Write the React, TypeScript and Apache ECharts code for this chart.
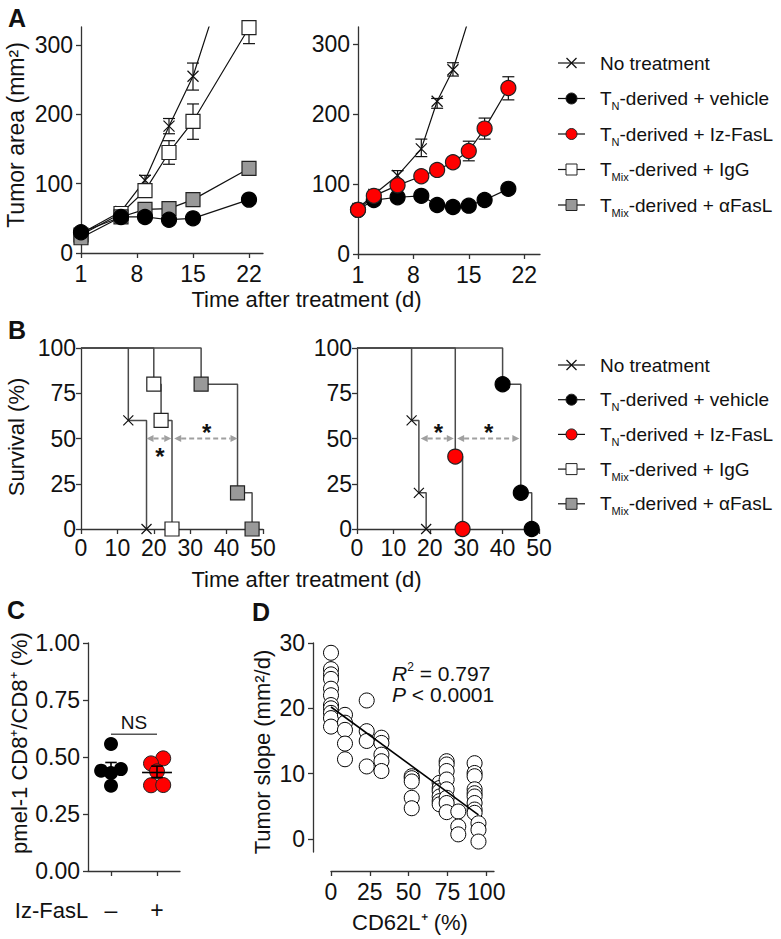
import React, { useEffect, useRef } from 'react';
import * as echarts from 'echarts';

const FONT = '"Liberation Sans", Arial, Helvetica, sans-serif';
const AX = '#333';
const TXT = '#111';

// ---------- Panel A (tumor area) ----------
const daysA1 = [1, 6, 9, 12, 15, 22];
const noTrtA1 = [28, 60, 105, 183, 255, 505];
const vehA1 = [30, 52, 52, 48, 50, 77];
const igGA1 = [26, 57, 90, 145, 190, 325];
const aFasLA1 = [22, 52, 63, 64, 77, 122];
const errNoTrtA1 = [[9, 100, 112], [12, 172, 194], [15, 235, 274]];
const errIgGA1 = [[12, 128, 162], [15, 164, 215], [22, 302, 350]];

const daysA2 = [1, 3, 6, 9, 11, 13, 15, 17, 20];
const daysNoTrtA2 = [1, 3, 6, 9, 11, 13, 17];
const noTrtA2 = [65, 85, 112, 150, 218, 263, 408];
const vehA2 = [63, 77, 81, 83, 70, 67, 69, 77, 93];
const izA2 = [63, 83, 98, 111, 120, 131, 147, 179, 237];
const errNoTrtA2 = [[6, 104, 119], [9, 139, 164], [11, 208, 222], [13, 254, 273]];
const errIzA2 = [[13, 125, 137], [15, 133, 161], [17, 164, 194], [20, 220, 253]];

const ticksAX = [1, 8, 15, 22];
const ticksAY = [0, 100, 200, 300];

// ---------- Panel B (survival) ----------
const survNoTrtL = [[0, 100], [13, 60], [18, 0]];
const survIgGL = [[0, 100], [20, 80], [22, 60], [25, 0]];
const survAFasLL = [[0, 100], [33, 80], [43, 20], [47, 0]];
const survNoTrtR = [[0, 100], [15, 60], [17, 20], [19, 0]];
const survIzR = [[0, 100], [27, 40], [29, 0]];
const survVehR = [[0, 100], [40, 80], [45, 20], [48, 0]];
const arrowsL = [[18, 24.8, 50], [25.6, 43, 50]];
const arrowsR = [[17.5, 26.6, 50], [27.5, 44.6, 50]];
const starsL = [[21.7, 43], [34.5, 56]];
const starsR = [[22.4, 56], [36.2, 56]];
const ticksBX = [0, 10, 20, 30, 40, 50];
const ticksBY = [0, 25, 50, 75, 100];

// ---------- Panel C ----------
const cNegJitter = [1, 0.57, 1, 1.43, 1];
const cNegVals = [0.557, 0.44, 0.43, 0.447, 0.374];
const cPosJitter = [3.27, 2.74, 3.0, 2.74, 3.27];
const cPosVals = [0.494, 0.472, 0.437, 0.376, 0.377];
const cMeanSem = [[1, 0.45, 0.425, 0.476], [3, 0.432, 0.41, 0.46]];
const cNS = [[1, 3, 0.6]];
const ticksCX = [1, 3];
const ticksCXLabels = ['–', '+'];
const ticksCY = [0, 0.25, 0.5, 0.75, 1];

// ---------- Panel D ----------
const dX = [
  0, 0, 0, 0, 0, 0, 0, 0, 0, 0, 0,
  9, 9, 9, 9, 9,
  23, 23, 23, 23,
  32.5, 32.5, 32.5, 32.5, 32.5,
  52, 52, 52, 52, 52,
  70, 70, 70, 70, 70, 70,
  74.5, 74.5, 74.5, 74.5, 74.5, 74.5, 74.5, 74.5,
  82, 82, 82,
  92.5, 92.5, 92.5, 92.5, 92.5, 92.5, 92.5, 92.5, 92.5,
  95, 95, 95,
];
const dY = [
  28.5, 26.0, 25.2, 24.5, 23.0, 22.0, 20.5, 20.0, 19.3, 18.5, 17.2,
  19.0, 17.8, 16.7, 14.6, 12.2,
  21.2, 16.5, 15.0, 11.1,
  15.5, 14.7, 12.9, 11.9, 10.4,
  9.6, 9.3, 8.8, 6.3, 4.7,
  8.6, 7.8, 7.3, 6.5, 5.8, 5.3,
  11.9, 11.4, 10.4, 9.1, 7.6, 6.3, 5.5, 4.1,
  4.2, 1.9, 0.7,
  11.6, 10.1, 9.6, 7.6, 7.0, 6.5, 5.5, 4.5, 4.0,
  2.4, 1.4, -0.4,
];
const dFitX = [0, 95];
const dFitY = [20.2, 3.7];
const ticksDX = [0, 25, 50, 75, 100];
const ticksDY = [0, 10, 20, 30];

const legendTexts = [
  'No treatment',
  '{n|T}{s|N}{n|-derived + vehicle}',
  '{n|T}{s|N}{n|-derived + Iz-FasL}',
  '{n|T}{s|Mix}{n|-derived + IgG}',
  '{n|T}{s|Mix}{n|-derived + αFasL}',
];

const XPATH = 'path://M0,0L10,10M10,0L0,10';
const RED = '#ff0000';
const GRAY = '#999999';

function axis(gridIndex: number, min: number, max: number, ticks: number[], margin: number, extra: any = {}) {
  return {
    type: 'value',
    gridIndex,
    min,
    max,
    offset: extra.offset || 0,
    axisLine: { show: true, onZero: false, lineStyle: { color: AX, width: 1.3 } },
    axisTick: { show: true, length: 5, customValues: ticks, lineStyle: { color: AX, width: 1.3 } },
    axisLabel: {
      customValues: ticks,
      fontSize: 23,
      color: TXT,
      fontFamily: FONT,
      margin,
      ...(extra.formatter ? { formatter: extra.formatter } : {}),
    },
    splitLine: { show: false },
  };
}

function lineS(gi: number, xs: number[], ys: number[], symbol: string, size: number, color: string, border: string, z: number) {
  return {
    type: 'line',
    xAxisIndex: gi,
    yAxisIndex: gi,
    data: xs.map((x, i) => [x, ys[i]]),
    symbol,
    symbolSize: size,
    showAllSymbol: true,
    clip: true,
    z,
    lineStyle: { color: TXT, width: 1.2 },
    itemStyle: { color, borderColor: border, borderWidth: 1.2, opacity: 1 },
  };
}

function errS(gi: number, data: number[][]) {
  return {
    type: 'custom',
    xAxisIndex: gi,
    yAxisIndex: gi,
    data,
    z: 1,
    renderItem: (params: any, api: any) => {
      const x = api.value(0), lo = api.value(1), hi = api.value(2);
      const cs = params.coordSys;
      const pLo = api.coord([x, lo]);
      const pHi = api.coord([x, hi]);
      const top = Math.max(pHi[1], cs.y);
      const st = { stroke: TXT, lineWidth: 1.2 };
      const ch: any[] = [
        { type: 'line', shape: { x1: pLo[0], y1: pLo[1], x2: pLo[0], y2: top }, style: st },
        { type: 'line', shape: { x1: pLo[0] - 6, y1: pLo[1], x2: pLo[0] + 6, y2: pLo[1] }, style: st },
      ];
      if (pHi[1] >= cs.y) ch.push({ type: 'line', shape: { x1: pHi[0] - 6, y1: pHi[1], x2: pHi[0] + 6, y2: pHi[1] }, style: st });
      return { type: 'group', children: ch };
    },
  };
}

function stepS(gi: number, pts: number[][], symbol: string, size: number, color: string, border: string, z: number) {
  return {
    type: 'line',
    xAxisIndex: gi,
    yAxisIndex: gi,
    step: 'end',
    data: pts.map((p, i) => (i === 0 ? { value: p, symbol: 'none' } : { value: p })),
    symbol,
    symbolSize: size,
    showAllSymbol: true,
    clip: false,
    z,
    lineStyle: { color: '#4a4a4a', width: 1.5 },
    itemStyle: { color, borderColor: border, borderWidth: 1.2, opacity: 1 },
  };
}

function arrowS(gi: number, data: number[][]) {
  return {
    type: 'custom',
    xAxisIndex: gi,
    yAxisIndex: gi,
    data,
    z: 5,
    renderItem: (_p: any, api: any) => {
      const y = api.value(2);
      const a = api.coord([api.value(0), y]);
      const b = api.coord([api.value(1), y]);
      const yy = a[1];
      const L = 7, H = 3.5, col = '#a0a0a0';
      return {
        type: 'group',
        children: [
          { type: 'line', shape: { x1: a[0] + L, y1: yy, x2: b[0] - L, y2: yy }, style: { stroke: col, lineWidth: 1.8, lineDash: [5, 3] } },
          { type: 'polygon', shape: { points: [[a[0], yy], [a[0] + L, yy - H], [a[0] + L, yy + H]] }, style: { fill: col } },
          { type: 'polygon', shape: { points: [[b[0], yy], [b[0] - L, yy - H], [b[0] - L, yy + H]] }, style: { fill: col } },
        ],
      };
    },
  };
}

function starS(gi: number, data: number[][]) {
  return {
    type: 'custom',
    xAxisIndex: gi,
    yAxisIndex: gi,
    data,
    z: 6,
    renderItem: (_p: any, api: any) => {
      const p = api.coord([api.value(0), api.value(1)]);
      return {
        type: 'text',
        x: p[0],
        y: p[1] + 5,
        style: { text: '*', fontSize: 24, fontWeight: 'bold', fontFamily: FONT, fill: TXT, align: 'center', verticalAlign: 'middle' },
      };
    },
  };
}

function legendGraphic(y0: number, step: number) {
  const out: any[] = [];
  const rich = {
    n: { fontSize: 19, fontFamily: FONT, fill: TXT, lineHeight: 26 },
    s: { fontSize: 11, fontFamily: FONT, fill: TXT, lineHeight: 11, verticalAlign: 'bottom' },
  };
  legendTexts.forEach((t, i) => {
    const y = y0 + i * step;
    const cx = 571.5;
    out.push({ type: 'line', shape: { x1: 558, y1: y, x2: 585, y2: y }, style: { stroke: TXT, lineWidth: 1.2 } });
    if (i === 0) {
      out.push({ type: 'line', shape: { x1: cx - 5, y1: y - 5, x2: cx + 5, y2: y + 5 }, style: { stroke: TXT, lineWidth: 1.2 } });
      out.push({ type: 'line', shape: { x1: cx - 5, y1: y + 5, x2: cx + 5, y2: y - 5 }, style: { stroke: TXT, lineWidth: 1.2 } });
    } else if (i === 1 || i === 2) {
      out.push({ type: 'circle', shape: { cx, cy: y, r: 5.5 }, style: { fill: i === 1 ? '#000' : RED, stroke: '#222', lineWidth: 1 } });
    } else {
      out.push({ type: 'rect', shape: { x: cx - 5.5, y: y - 5.5, width: 11, height: 11 }, style: { fill: i === 3 ? '#fff' : GRAY, stroke: '#222', lineWidth: 1 } });
    }
    out.push({
      type: 'text',
      x: 600,
      y,
      style: { text: i === 0 ? '{n|No treatment}' : t, rich, fill: TXT, fontSize: 19, fontFamily: FONT, verticalAlign: 'middle', align: 'left' },
    });
  });
  return out;
}

function txt(text: string, x: number, y: number, size: number, extra: any = {}) {
  return {
    type: 'text',
    x,
    y,
    rotation: extra.rotation || 0,
    style: {
      text,
      fontSize: size,
      fontFamily: FONT,
      fill: TXT,
      fontWeight: extra.bold ? 'bold' : 'normal',
      align: extra.align || 'center',
      verticalAlign: 'middle',
      ...(extra.rich ? { rich: extra.rich } : {}),
    },
  };
}

export default function App() {
  const ref = useRef<HTMLDivElement>(null);
  useEffect(() => {
    if (!ref.current) return;
    const chart = echarts.init(ref.current, undefined, { renderer: 'svg' });
    const gridBase = { containLabel: false, outerBoundsMode: 'none' };
    const richR = {
      i: { fontSize: 21, fontFamily: FONT, fontStyle: 'italic', fill: TXT, lineHeight: 24 },
      n: { fontSize: 21, fontFamily: FONT, fill: TXT, lineHeight: 24 },
      sup: { fontSize: 12, fontFamily: FONT, fill: TXT, lineHeight: 12, verticalAlign: 'top' },
    };
    const option: any = {
      animation: false,
      backgroundColor: '#ffffff',
      grid: [
        { ...gridBase, left: 81, top: 27, width: 182, height: 226 },
        { ...gridBase, left: 358, top: 27, width: 182, height: 227 },
        { ...gridBase, left: 81, top: 348, width: 182, height: 181 },
        { ...gridBase, left: 357, top: 348, width: 182, height: 181 },
        { ...gridBase, left: 88, top: 643, width: 92, height: 228 },
        { ...gridBase, left: 331, top: 643, width: 163, height: 209 },
      ],
      xAxis: [
        axis(0, 1, 23.75, ticksAX, 9),
        axis(1, 1, 24, ticksAX, 9),
        axis(2, 0, 50, ticksBX, 7),
        axis(3, 0, 50, ticksBX, 7),
        axis(4, 0, 4, ticksCX, 27, { formatter: (v: number) => ticksCXLabels[ticksCX.indexOf(v)] }),
        axis(5, 0, 105, ticksDX, 9, { offset: 19 }),
      ],
      yAxis: [
        axis(0, 0, 326, ticksAY, 8),
        axis(1, 0, 324, ticksAY, 8),
        axis(2, 0, 100, ticksBY, 5),
        axis(3, 0, 100, ticksBY, 5),
        axis(4, 0, 1, ticksCY, 8, { formatter: (v: number) => v.toFixed(2) }),
        axis(5, -2, 30, ticksDY, 8, { offset: 18 }),
      ],
      series: [
        // A left
        errS(0, errNoTrtA1),
        errS(0, errIgGA1),
        lineS(0, daysA1, noTrtA1, XPATH, 11, 'rgba(0,0,0,0)', TXT, 2),
        lineS(0, daysA1, igGA1, 'rect', 14, '#ffffff', '#222', 3),
        lineS(0, daysA1, aFasLA1, 'rect', 14, GRAY, '#222', 4),
        lineS(0, daysA1, vehA1, 'circle', 15, '#000', '#000', 5),
        // A right
        errS(1, errNoTrtA2),
        errS(1, errIzA2),
        lineS(1, daysNoTrtA2, noTrtA2, XPATH, 11, 'rgba(0,0,0,0)', TXT, 2),
        lineS(1, daysA2, vehA2, 'circle', 15, '#000', '#000', 3),
        lineS(1, daysA2, izA2, 'circle', 15, RED, '#222', 4),
        // B left
        stepS(2, survNoTrtL, XPATH, 10, 'rgba(0,0,0,0)', TXT, 2),
        stepS(2, survIgGL, 'rect', 14, '#ffffff', '#222', 3),
        stepS(2, survAFasLL, 'rect', 14, GRAY, '#222', 4),
        arrowS(2, arrowsL),
        starS(2, starsL),
        // B right
        stepS(3, survNoTrtR, XPATH, 10, 'rgba(0,0,0,0)', TXT, 2),
        stepS(3, survIzR, 'circle', 15, RED, '#222', 3),
        stepS(3, survVehR, 'circle', 15, '#000', '#000', 4),
        arrowS(3, arrowsR),
        starS(3, starsR),
        // C
        {
          type: 'scatter', xAxisIndex: 4, yAxisIndex: 4, z: 2,
          data: cNegJitter.map((x, i) => [x, cNegVals[i]]),
          symbol: 'circle', symbolSize: 14,
          itemStyle: { color: '#000', opacity: 1 },
        },
        {
          type: 'scatter', xAxisIndex: 4, yAxisIndex: 4, z: 2,
          data: cPosJitter.map((x, i) => [x, cPosVals[i]]),
          symbol: 'circle', symbolSize: 15,
          itemStyle: { color: RED, borderColor: '#222', borderWidth: 1, opacity: 1 },
        },
        {
          type: 'custom', xAxisIndex: 4, yAxisIndex: 4, z: 4, data: cMeanSem,
          renderItem: (_p: any, api: any) => {
            const x = api.value(0);
            const m1 = api.coord([x - 0.65, api.value(1)]);
            const m2 = api.coord([x + 0.65, api.value(1)]);
            const lo = api.coord([x, api.value(2)]);
            const hi = api.coord([x, api.value(3)]);
            const c1 = api.coord([x - 0.25, api.value(3)]);
            const c2 = api.coord([x + 0.25, api.value(3)]);
            const d1 = api.coord([x - 0.25, api.value(2)]);
            const d2 = api.coord([x + 0.25, api.value(2)]);
            const st = { stroke: '#000', lineWidth: 1.6 };
            return {
              type: 'group',
              children: [
                { type: 'line', shape: { x1: m1[0], y1: m1[1], x2: m2[0], y2: m2[1] }, style: st },
                { type: 'line', shape: { x1: lo[0], y1: lo[1], x2: hi[0], y2: hi[1] }, style: st },
                { type: 'line', shape: { x1: c1[0], y1: c1[1], x2: c2[0], y2: c2[1] }, style: st },
                { type: 'line', shape: { x1: d1[0], y1: d1[1], x2: d2[0], y2: d2[1] }, style: st },
              ],
            };
          },
        },
        {
          type: 'custom', xAxisIndex: 4, yAxisIndex: 4, z: 4, data: cNS,
          renderItem: (_p: any, api: any) => {
            const a = api.coord([api.value(0), api.value(2)]);
            const b = api.coord([api.value(1), api.value(2)]);
            return {
              type: 'group',
              children: [
                { type: 'line', shape: { x1: a[0], y1: a[1], x2: b[0], y2: b[1] }, style: { stroke: '#555', lineWidth: 1.5 } },
                {
                  type: 'text', x: (a[0] + b[0]) / 2, y: a[1] - 12,
                  style: { text: 'NS', fontSize: 19, fontFamily: FONT, fill: TXT, align: 'center', verticalAlign: 'middle' },
                },
              ],
            };
          },
        },
        // D
        {
          type: 'scatter', xAxisIndex: 5, yAxisIndex: 5, z: 2,
          data: dX.map((x, i) => [x, dY[i]]),
          symbol: 'circle', symbolSize: 15,
          itemStyle: { color: '#ffffff', borderColor: '#000', borderWidth: 1, opacity: 1 },
        },
        {
          type: 'line', xAxisIndex: 5, yAxisIndex: 5, z: 3,
          data: dFitX.map((x, i) => [x, dFitY[i]]),
          symbol: 'none',
          lineStyle: { color: '#000', width: 1.6 },
        },
      ],
      graphic: [
        txt('A', 17, 18, 25, { bold: true }),
        txt('B', 17, 330, 25, { bold: true }),
        txt('C', 16, 610, 25, { bold: true }),
        txt('D', 261, 612, 25, { bold: true }),
        txt('Tumor area (mm²)', 16, 135, 23, { rotation: Math.PI / 2 }),
        txt('Time after treatment (d)', 306.5, 299, 22),
        txt('Survival (%)', 16, 437, 22, { rotation: Math.PI / 2 }),
        txt('Time after treatment (d)', 306.5, 579, 22),
        txt('pmel-1 CD8⁺/CD8⁺ (%)', 19, 743, 22, { rotation: Math.PI / 2 }),
        txt('Iz-FasL', 51.5, 910, 22),
        txt('Tumor slope (mm²/d)', 262, 752, 22, { rotation: Math.PI / 2 }),
        txt('CD62L⁺ (%)', 410, 922, 22),
        txt('{i|R}{sup|2}{n| = 0.797}', 392, 673, 21, { align: 'left', rich: richR }),
        txt('{i|P}{n| < 0.0001}', 392, 694, 21, { align: 'left', rich: richR }),
        ...legendGraphic(63, 35.5),
        ...legendGraphic(365, 34.7),
      ],
    };
    chart.setOption(option);
    return () => chart.dispose();
  }, []);
  return <div ref={ref} style={{ position: 'absolute', left: 0, top: 0, width: 781, height: 939 }} />;
}
